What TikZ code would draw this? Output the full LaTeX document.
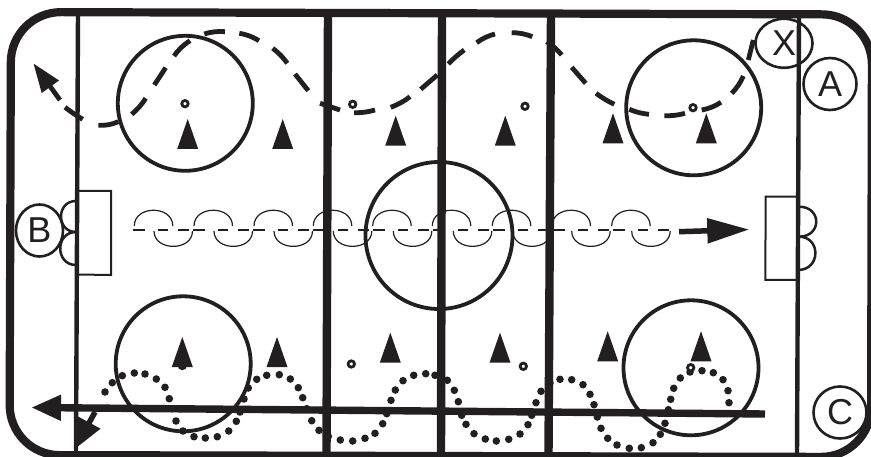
\documentclass[tikz,border=0pt]{standalone}
\usepackage{fontspec}
\setmainfont{Liberation Sans}
\usetikzlibrary{arrows.meta,shapes.geometric}
\definecolor{RinkBlack}{RGB}{35,31,32}
\tikzset{
  rink/board/.style={draw=RinkBlack, line width=8.2pt, rounded corners=50pt},
  rink/blueline/.style={draw=RinkBlack, line width=8.4pt},
  rink/goalline/.style={draw=RinkBlack, line width=4.4pt},
  rink/faceoff/.style={draw=RinkBlack, line width=3.8pt},
  rink/crease/.style={draw=RinkBlack, line width=2pt},
  rink/bump/.style={draw=RinkBlack, line width=2.5pt},
  rink/loop/.style={draw=RinkBlack, line width=1.2pt},
  rink/pass/.style={draw=RinkBlack, line width=1.2pt,
    dash pattern=on 12pt off 13pt on 10pt off 10pt on 11pt off 4pt},
  rink/skate/.style={draw=RinkBlack, line width=4.8pt},
  rink/skatehead/.style={draw=RinkBlack, line width=4.8pt, -{Triangle[length=29pt,width=20pt]}},
  rink/shot/.style={draw=RinkBlack, line width=7.4pt, -{Triangle[length=30pt,width=24pt]}},
  rink/drop/.style={draw=RinkBlack, line width=5.5pt, -{Triangle[length=30pt,width=24pt]}},
  rink/carry/.style={draw=RinkBlack, line width=5.5pt, -{Triangle[length=42pt,width=24pt]}},
  rink/player/.style={ellipse, draw=RinkBlack, line width=2.6pt, inner sep=0pt,
    text=RinkBlack, font=\fontsize{36}{36}\selectfont},
  rink/puck/.style={draw=RinkBlack, line width=2.8pt, fill=white},
  rink/dot/.style={fill=RinkBlack},
  rink/cone/.style={fill=RinkBlack}
}
\begin{document}
\begin{tikzpicture}[x=1pt,y=-1pt]
  \useasboundingbox (0,0) rectangle (871,457);
  % lines
  \draw[rink/goalline] (78,12) -- (76,456);
  \draw[rink/goalline] (799,14) -- (797,456);
  \draw[rink/blueline] (328,12) -- (326.5,456);
  \draw[rink/blueline] (442,12) -- (441,456);
  \draw[rink/blueline] (551,14) -- (548.5,456);
  \draw[rink/board] (11,12) -- (872,14.5) -- (871,457) -- (9.5,455) -- cycle;
  % faceoff circles
  \draw[rink/faceoff] (185.3,103.3) circle (67.5);
  \draw[rink/faceoff] (693.7,107.8) circle (67.5);
  \draw[rink/faceoff] (183.2,363.8) circle (67.5);
  \draw[rink/faceoff] (691,367.8) circle (67.5);
  \draw[rink/faceoff] (439,235.5) circle (73.5);
  % goals
  \draw[rink/crease] (78,191) -- (111,191) -- (111,275) -- (77,274.5);
  \draw[rink/crease] (798,196.7) -- (765.7,196.7) -- (765.3,280) -- (797,280);
  \draw[rink/bump] (76,201) .. controls (56,201) and (56,232) .. (76,232);
  \draw[rink/bump] (76,232) .. controls (55,232) and (55,265) .. (76,265);
  \draw[rink/bump] (799,206.7) .. controls (822,206.7) and (822,236.7) .. (799,236.7);
  \draw[rink/bump] (799,236.7) .. controls (821,236.7) and (821,270) .. (798,270);
  % loops through the middle
  \draw[rink/pass] (133,230) -- (669,230);
  \foreach \loopx in {134.3,194,254,313.3,372.7,432.3,492.3,552,611.7} {
    \draw[rink/loop] (\loopx,226) .. controls (\loopx,205) and (\loopx+38.5,205) .. (\loopx+38.5,226);
  }
  \foreach \loopx in {154,214,274,333.3,393.3,453.3,512.7,571.7,631.7} {
    \draw[rink/loop] (\loopx,231) .. controls (\loopx,251.5) and (\loopx+38.5,251.5) .. (\loopx+38.5,231);
  }
  \draw[rink/carry] (679,231.7) -- (749.3,229.5);
  % dotted route
  \foreach \dotx/\doty in {105/392,112.3/382.7,122.3/375.7,134.3/373,145/374,156.3/379,165/387.3,169.3/398.7,
    172/408.7,176/421,183/431,194/436.7,205.3/438,217.3/436.7,228.7/431,236.3/421.3,240/412,244/399,
    248.3/388,256.7/379.3,266.7/375.3,279.3/374.7,290.3/379,298.3/387.7,302.7/397.7,306.7/408.7,311.7/420.7,
    319/430.3,328.3/436.3,340.3/440,352.7/441,365/438.3,375/433.3,382.7/423.7,386.7/413.7,391/400.3,
    395.3/390,403/380.7,413.7/375.3,425.7/373.7,435/375.3,447.3/380.3,454.3/390.3,458.3/401.7,461.7/415.3,
    466/424.3,474/433.7,485.3/439,496.3/441,508.7/439.3,520/434,528/424.7,531.7/415.3,536/402.7,541/391.3,
    550/383,560/379.3,571.7/379.7,583/384.7,590/394.3,594/404.7,597.3/417,601/428.3,607.7/438.3,617/445,
    629.3/448.3,641.3/447.7,653/442.7,660.3/434.3,665/423.3,668.3/409.7,670.7/399.3,673.7/388.3,680.3/378,
    690/372,702/370.7,713.3/372.7,723/379.7,728/390.7,729/402.7} {
    \fill[rink/dot] (\dotx,\doty) circle (3.8);
  }
  % shot along the bottom
  \draw[rink/shot] (765,414) -- (31,407.5);
  \draw[rink/drop] (95,412) -- (75,449);
  % dashed route
  \foreach \ax/\ay/\bx/\by/\bendby in {753.3/40/748.3/60/0,743.3/76/731.7/93.3/10,721/102.3/701.7/110/10,
    685/113.3/664.3/115.7/8,649/114.3/629.3/109.3/8,614.3/104.3/596/93.3/5,585.7/83.3/571.7/67.3/0,
    561.7/55/546.7/41.7/-8,532.3/36.7/511.7/32.7/-10,495/34/476.7/42.7/-10,464.3/50/448.3/64/-5,
    437.3/75/420.7/89.3/0,410/96.7/390.7/107.3/8,375/110/354/112.7/8,340/110/320/103.3/0,
    308.3/90.7/295/74/0,287.3/63.3/272.7/48.3/-8,259/40.7/239.3/33.3/-10,225/31.7/204.3/34/-10,
    190/40.7/174/56/-10,165.7/67.7/154.3/85/0,145.7/98.3/131.7/114.3/8,118.3/121.7/98.3/125.3/12,
    82.7/119.3/65/107.3/3} {
    \draw[rink/skate] (\ax,\ay) to[bend left=\bendby] (\bx,\by);
  }
  \draw[rink/skatehead] (60,100) -- (33.3,63.3);
  % pucks
  \foreach \puckx/\pucky in {185/103.7,352.7/104.3,525/106.3,693/107.7,182.3/365.5,351.3/364,523.3/366.3,690.7/367.7} {
    \draw[rink/puck] (\puckx,\pucky) circle (3.2);
  }
  % cones
  \foreach \conex/\coney in {187.7/149,282.7/149,395.7/145.7,505.3/145.7,613/143.3,706.3/143.3,
    182.3/367,277/367,390.3/362.7,500/362.7,607.7/361.3,701/361.3} {
    \fill[rink/cone] (\conex-10.5,\coney) -- (\conex+10.5,\coney) -- (\conex,\coney-30) -- cycle;
  }
  % players
  \node[rink/player,minimum width=57pt,minimum height=49pt] (playerX) at (784,43.3) {X};
  \node[rink/player,minimum width=53pt,minimum height=52pt] (playerA) at (830,84) {A};
  \node[rink/player,minimum width=47pt,minimum height=52pt] (playerB) at (39.5,230.5) {B};
  \node[rink/player,minimum width=53pt,minimum height=52pt] (playerC) at (840,412.5) {C};
\end{tikzpicture}
\end{document}
